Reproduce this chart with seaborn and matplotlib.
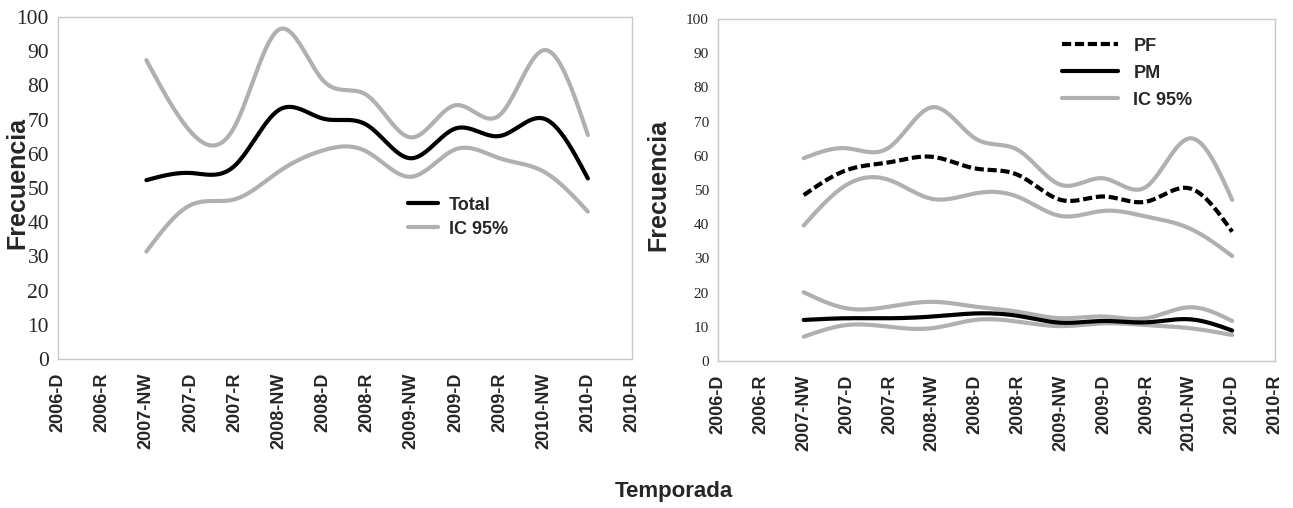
import numpy as np
import pandas as pd
import matplotlib
matplotlib.use("Agg")
import matplotlib.pyplot as plt
import seaborn as sns

# categories on the x axis (season)
temporadas = ["2006-D", "2006-R", "2007-NW", "2007-D", "2007-R", "2008-NW", "2008-D",
              "2008-R", "2009-NW", "2009-D", "2009-R", "2010-NW", "2010-D", "2010-R"]
# data only exists from 2007-NW to 2010-D
con_datos = temporadas[2:13]

# left panel
total = [52.3, 54.4, 56.5, 72.8, 70.3, 68.4, 58.7, 67.4, 65.2, 70.3, 52.8]
total_sup = [87.4, 66.5, 68.0, 96.3, 81.5, 77.1, 64.8, 74.2, 71.3, 90.3, 65.5]
total_inf = [31.4, 45.0, 46.7, 54.8, 61.0, 60.6, 53.3, 61.3, 58.7, 54.8, 43.1]

# right panel
pf = [48.5, 55.8, 58.1, 59.7, 56.3, 54.4, 47.1, 48.1, 46.6, 50.5, 37.8]
pf_sup = [59.3, 62.2, 62.5, 74.2, 65.1, 61.7, 51.5, 53.4, 51.0, 65.1, 47.1]
pf_inf = [39.6, 51.5, 52.9, 47.4, 49.0, 48.0, 42.4, 43.9, 42.2, 38.8, 30.7]
pm = [12.0, 12.5, 12.5, 13.0, 13.9, 13.2, 11.2, 11.7, 11.3, 12.2, 8.9]
pm_sup = [20.1, 15.4, 15.9, 17.3, 15.9, 14.4, 12.5, 13.0, 12.5, 15.7, 11.7]
pm_inf = [7.1, 10.5, 10.0, 9.6, 12.0, 11.5, 10.2, 11.0, 10.5, 9.6, 7.6]

GRIS = "#b0b0b0"


def suavizar(x, y, n=400):
    # natural cubic spline, only for drawing the smooth line like the original chart
    x = np.asarray(x, float)
    y = np.asarray(y, float)
    h = np.diff(x)
    k = len(x)
    A = np.zeros((k, k))
    b = np.zeros(k)
    A[0, 0] = 1
    A[-1, -1] = 1
    for i in range(1, k - 1):
        A[i, i - 1] = h[i - 1]
        A[i, i] = 2 * (h[i - 1] + h[i])
        A[i, i + 1] = h[i]
        b[i] = 6 * ((y[i + 1] - y[i]) / h[i] - (y[i] - y[i - 1]) / h[i - 1])
    M = np.linalg.solve(A, b)
    xs = np.linspace(x[0], x[-1], n)
    j = np.clip(np.searchsorted(x, xs) - 1, 0, k - 2)
    t0 = x[j + 1] - xs
    t1 = xs - x[j]
    ys = (M[j] * t0 ** 3 + M[j + 1] * t1 ** 3) / (6 * h[j]) \
        + (y[j] / h[j] - M[j] * h[j] / 6) * t0 \
        + (y[j + 1] / h[j] - M[j + 1] * h[j] / 6) * t1
    return xs, ys


def curva(ax, valores, color, ls="-", label=None):
    pos = [temporadas.index(c) for c in con_datos]
    xs, ys = suavizar(pos, valores)
    sns.lineplot(x=xs, y=ys, ax=ax, color=color, lw=3.0, ls=ls, label=label,
                 legend=False, sort=False)


def ejes(ax, size_y, xlab):
    ax.set_xlim(0, len(temporadas) - 1)
    ax.set_ylim(0, 100)
    ax.set_yticks(range(0, 101, 10))
    ax.set_xticks(range(len(temporadas)))
    ax.set_xticklabels(temporadas, rotation=90, fontsize=13, fontweight="bold",
                       family="Liberation Sans")
    for t in ax.get_yticklabels():
        t.set_fontsize(size_y)
        t.set_family("Liberation Serif")
    ax.tick_params(axis="both", direction="out", length=4.5, color="#a8a8a8", width=1)
    ax.tick_params(axis="x", pad=5)
    ax.tick_params(axis="y", pad=2)
    for s in ax.spines.values():
        s.set_color("#c8c8c8")
        s.set_linewidth(1)
    ax.set_xlabel("")
    ax.set_ylabel("Frecuencia", fontsize=18, fontweight="bold", family="Liberation Sans")
    ax.yaxis.set_label_coords(xlab, 0.515)


sns.set_style("white")
plt.rcParams["font.family"] = ["Liberation Sans", "DejaVu Sans"]

fig = plt.figure(figsize=(12.93, 5.08), dpi=100)
ax1 = fig.add_axes([0.0449, 0.2933, 0.4439, 0.6732])
ax2 = fig.add_axes([0.5553, 0.2894, 0.4308, 0.6732])

curva(ax1, total_sup, GRIS)
curva(ax1, total_inf, GRIS)
curva(ax1, total, "black", label="Total")
ejes(ax1, 15.5, -0.05)
ax1.plot([], [], color=GRIS, lw=3.0, label="IC 95%")
h, l = ax1.get_legend_handles_labels()
ax1.legend(h, l, loc="upper left", bbox_to_anchor=(0.61, 0.475), frameon=False,
           borderaxespad=0, borderpad=0,
           prop={"weight": "bold", "size": 13}, handlelength=1.65, handletextpad=0.6,
           labelspacing=0.4)

curva(ax2, pf_sup, GRIS)
curva(ax2, pf_inf, GRIS)
curva(ax2, pm_sup, GRIS)
curva(ax2, pm_inf, GRIS)
curva(ax2, pf, "black", ls=(0, (2.2, 0.9)), label="PF")
curva(ax2, pm, "black", label="PM")
ejes(ax2, 11, -0.086)
ax2.plot([], [], color=GRIS, lw=3.0, label="IC 95%")
h, l = ax2.get_legend_handles_labels()
ax2.legend(h, l, loc="upper left", bbox_to_anchor=(0.6176, 0.945), frameon=False,
           borderaxespad=0, borderpad=0,
           prop={"weight": "bold", "size": 13}, handlelength=3.1, handletextpad=0.85,
           labelspacing=0.55)

fig.text(0.5213, 0.0315, "Temporada", ha="center", va="center", fontsize=16,
         fontweight="bold")

fig.savefig("out.png", dpi=100)
